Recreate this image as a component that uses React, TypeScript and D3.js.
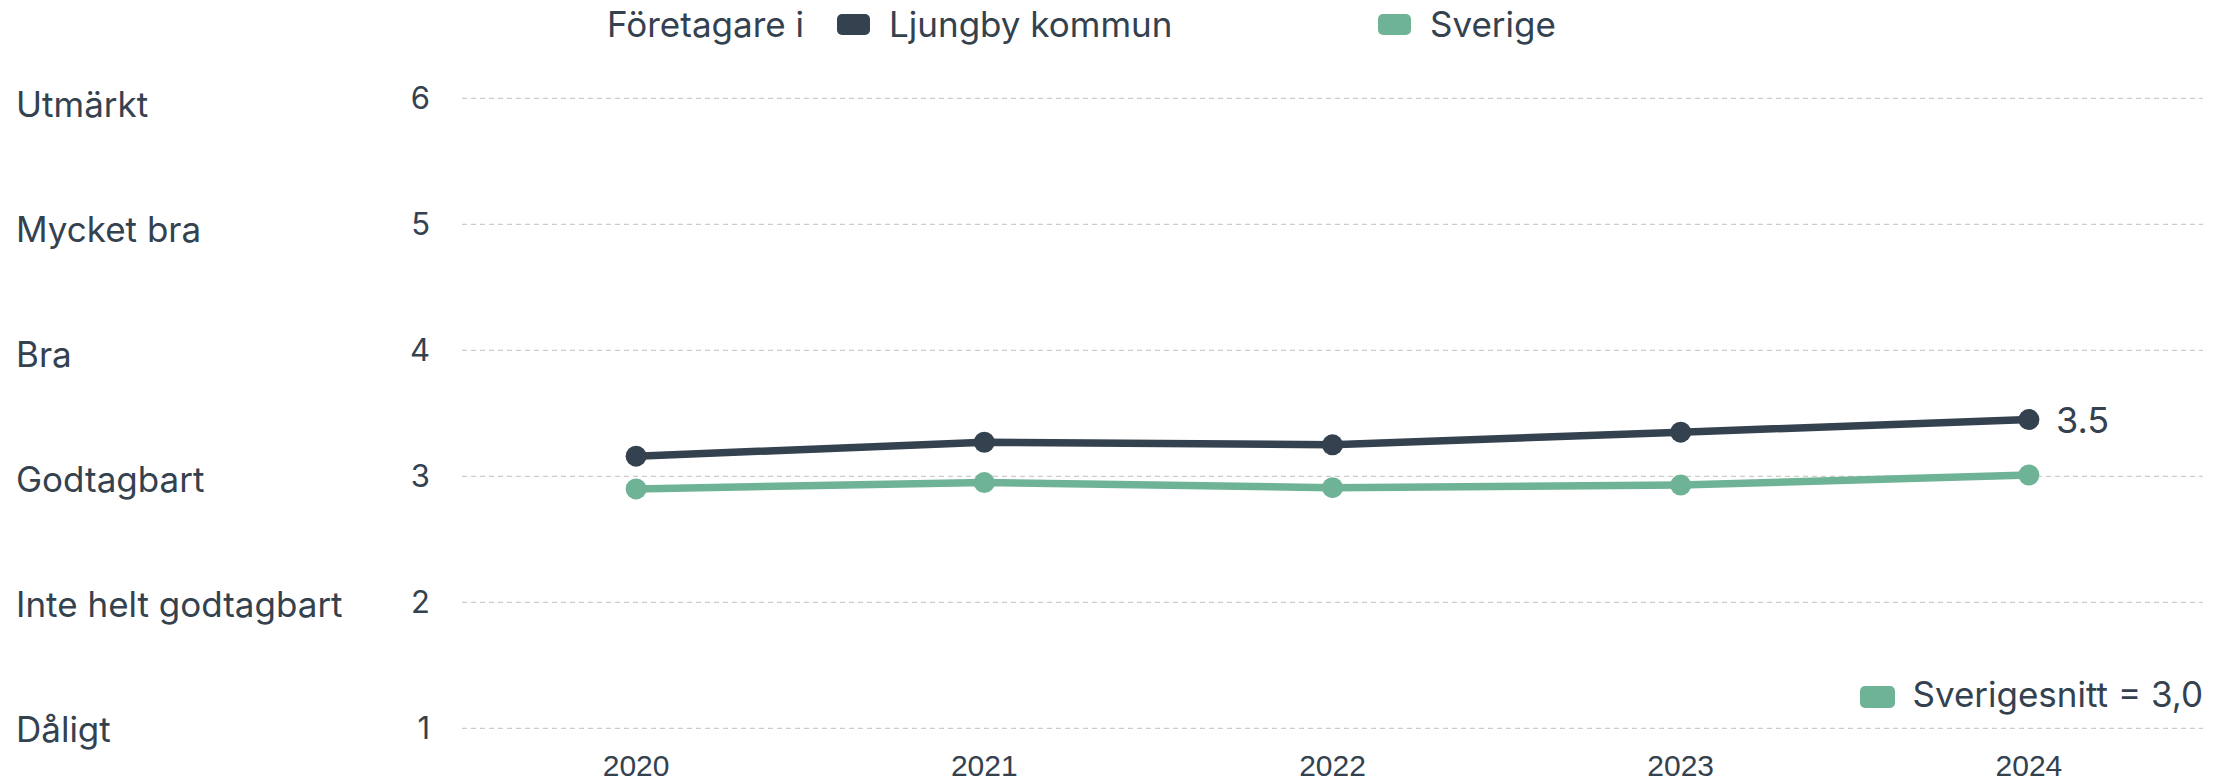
import { useEffect, useRef } from 'react';
import * as d3 from 'd3';

const years = ['2020', '2021', '2022', '2023', '2024'];
const ljungby = [3.16, 3.27, 3.25, 3.35, 3.45];
const sverige = [2.9, 2.95, 2.91, 2.93, 3.01];
const yTicks = [1, 2, 3, 4, 5, 6];
const ratingLabels = ['Dåligt', 'Inte helt godtagbart', 'Godtagbart', 'Bra', 'Mycket bra', 'Utmärkt'];
const lastLabel = '3.5';
const avgLabel = 'Sverigesnitt = 3,0';

const App = () => {
  const svgRef = useRef<SVGSVGElement>(null);

  useEffect(() => {
    document.body.style.margin = '0';
    const width = 2229;
    const height = 783;
    const dark = '#34414f';
    const green = '#6fb396';
    const font = 'Inter, "Noto Sans", sans-serif';
    const size = '35px';

    const svg = d3.select(svgRef.current).attr('width', width).attr('height', height);
    svg.selectAll('*').remove();

    const x = d3.scalePoint<string>().domain(years).range([462, 2203]).padding(0.5);
    const y = d3.scaleLinear().domain([1, 6]).range([728.3, 98.3]);
    // rating labels sit in their own band, slightly tighter than the grid
    const yLabel = d3.scaleLinear().domain([1, 6]).range([741.5, 117]);

    // grid
    svg
      .append('g')
      .selectAll('line')
      .data(yTicks)
      .enter()
      .append('line')
      .attr('x1', 462)
      .attr('x2', 2203)
      .attr('y1', (d) => y(d))
      .attr('y2', (d) => y(d))
      .attr('stroke', '#cccccc')
      .attr('stroke-width', 1.3)
      .attr('stroke-dasharray', '5,4');

    // tick numbers
    svg
      .append('g')
      .selectAll('text')
      .data(yTicks)
      .enter()
      .append('text')
      .attr('x', 430)
      .attr('y', (d) => y(d))
      .attr('dy', '0.35em')
      .attr('text-anchor', 'end')
      .style('font-family', font)
      .style('font-size', '31px')
      .style('fill', dark)
      .text((d) => d);

    // rating labels
    svg
      .append('g')
      .selectAll('text')
      .data(ratingLabels)
      .enter()
      .append('text')
      .attr('x', 16)
      .attr('y', (d, i) => yLabel(yTicks[i]))
      .style('font-family', font)
      .style('font-size', size)
      .style('fill', dark)
      .text((d) => d);

    // x labels
    svg
      .append('g')
      .selectAll('text')
      .data(years)
      .enter()
      .append('text')
      .attr('x', (d) => x(d) as number)
      .attr('y', 776)
      .attr('text-anchor', 'middle')
      .style('font-family', '"Liberation Sans", Arial, sans-serif')
      .style('font-size', '30px')
      .style('fill', dark)
      .text((d) => d);

    const line = d3
      .line<number>()
      .x((d, i) => x(years[i]) as number)
      .y((d) => y(d));

    const series = [
      { values: sverige, color: green },
      { values: ljungby, color: dark },
    ];

    series.forEach((s) => {
      svg
        .append('path')
        .datum(s.values)
        .attr('d', line)
        .attr('fill', 'none')
        .attr('stroke', s.color)
        .attr('stroke-width', 7.5);
      svg
        .append('g')
        .selectAll('circle')
        .data(s.values)
        .enter()
        .append('circle')
        .attr('cx', (d, i) => x(years[i]) as number)
        .attr('cy', (d) => y(d))
        .attr('r', 10.5)
        .attr('fill', s.color);
    });

    // end label
    svg
      .append('text')
      .attr('x', 2056)
      .attr('y', y(ljungby[ljungby.length - 1]))
      .attr('dy', '0.36em')
      .style('font-family', font)
      .style('font-size', '36px')
      .style('fill', dark)
      .text(lastLabel);

    // top legend
    const legend = svg.append('g');
    legend
      .append('text')
      .attr('x', 607)
      .attr('y', 37)
      .style('font-family', font)
      .style('font-size', size)
      .style('fill', dark)
      .text('Företagare i');
    const items = [
      { label: 'Ljungby kommun', color: dark, x: 837 },
      { label: 'Sverige', color: green, x: 1378 },
    ];
    items.forEach((it) => {
      legend
        .append('rect')
        .attr('x', it.x)
        .attr('y', 14)
        .attr('width', 33)
        .attr('height', 21)
        .attr('rx', 5)
        .attr('fill', it.color);
      legend
        .append('text')
        .attr('x', it.x + 52)
        .attr('y', 37)
        .style('font-family', font)
        .style('font-size', size)
        .style('fill', dark)
        .text(it.label);
    });

    // average legend
    svg
      .append('rect')
      .attr('x', 1860)
      .attr('y', 686)
      .attr('width', 35)
      .attr('height', 22)
      .attr('rx', 5)
      .attr('fill', green);
    svg
      .append('text')
      .attr('x', 2203)
      .attr('y', 707)
      .attr('text-anchor', 'end')
      .style('font-family', font)
      .style('font-size', size)
      .style('fill', dark)
      .text(avgLabel);
  }, []);

  return (
    <div>
      <svg ref={svgRef}></svg>
    </div>
  );
};

export default App;
